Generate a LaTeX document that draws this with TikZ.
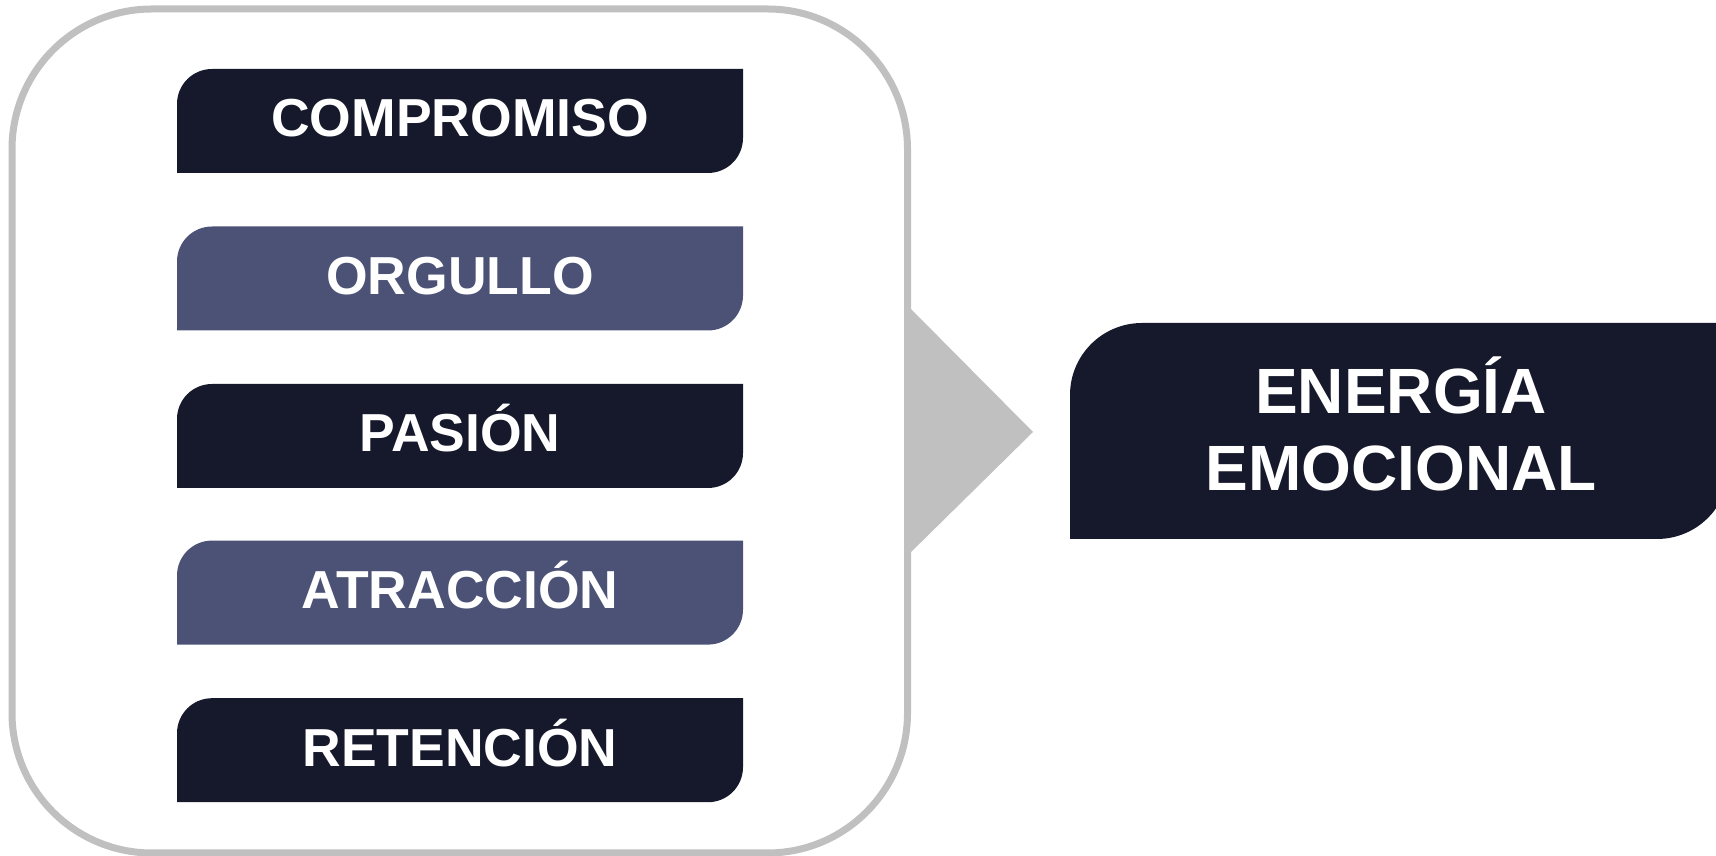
\documentclass[tikz,border=0pt]{standalone}
\usepackage{fontspec}
\setmainfont{Liberation Sans}
\definecolor{navy}{RGB}{22,25,43}
\definecolor{slate}{RGB}{75,82,118}
\definecolor{frame}{RGB}{192,192,192}
\newcommand\tagbox[6]{%
  \fill[#6] (#1,#3) -- (#1,#4-#5) arc[start angle=180,end angle=90,radius=#5]
    -- (#2,#4) -- (#2,#3+#5) arc[start angle=0,end angle=-90,radius=#5] -- cycle;}
\tikzset{
  lbl/.style={text=white,font=\fontsize{53.5}{60}\selectfont\bfseries,inner sep=0pt,anchor=base},
  big/.style={text=white,font=\fontsize{64}{77}\selectfont\bfseries,inner sep=0pt,anchor=base},
}
\begin{document}
\begin{tikzpicture}[x=1pt,y=1pt]
\useasboundingbox (0,0) rectangle (1716,856);
\clip (0,0) rectangle (1716,856);
% outer frame
\draw[frame,line width=7pt,rounded corners=140pt] (12,3) rectangle (907.5,847);
% arrow
\fill[frame] (905,553) -- (1033,424) -- (905,298) -- cycle;
% result box
\tagbox{1070}{1729}{317}{533}{72}{navy}
% items
\tagbox{177}{743}{683}{787}{35}{navy}
\tagbox{177}{743}{525.5}{629.5}{35}{slate}
\tagbox{177}{743}{368}{472}{35}{navy}
\tagbox{177}{743}{211.4}{315.4}{35}{slate}
\tagbox{177}{743}{53.8}{157.8}{35}{navy}
\node[lbl] (t1) at (460,856-137) {COMPROMISO};
\node[lbl] (t2) at (460,856-294.5) {ORGULLO};
\node[lbl] (t3) at (460,856-452) {PASIÓN};
\node[lbl] (t4) at (460,856-608.6) {ATRACCIÓN};
\node[lbl] (t5) at (460,856-766.2) {RETENCIÓN};
\node[big] (e1) at (1401,856-413.3) {ENERGÍA};
\node[big] (e2) at (1401,856-490.7) {EMOCIONAL};
\end{tikzpicture}
\end{document}
